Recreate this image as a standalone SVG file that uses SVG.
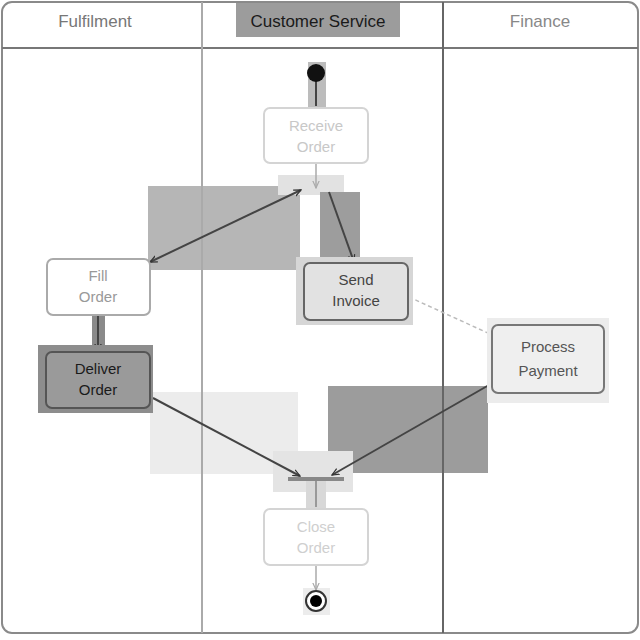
<svg xmlns="http://www.w3.org/2000/svg" width="640" height="640" viewBox="0 0 640 640">
  <defs>
    <marker id="arrow" viewBox="0 0 10 10" refX="9" refY="5" markerWidth="8" markerHeight="8" orient="auto-start-reverse" markerUnits="userSpaceOnUse">
      <path d="M0,1 L9,5 L0,9" fill="none" stroke="#333" stroke-width="1.5"/>
    </marker>
    <marker id="arrowLight" viewBox="0 0 10 10" refX="9" refY="5" markerWidth="8" markerHeight="8" orient="auto" markerUnits="userSpaceOnUse">
      <path d="M0,1 L9,5 L0,9" fill="none" stroke="#aaa" stroke-width="1.5"/>
    </marker>
  </defs>
  <style>
    .lane-title { font-family: "Liberation Sans", Arial, sans-serif; font-size: 17px; text-anchor: middle; }
    .label { font-family: "Liberation Sans", Arial, sans-serif; font-size: 15px; text-anchor: middle; }
    .node { rx: 6; ry: 6; stroke-width: 2; }
    .edge { fill: none; stroke: #444; stroke-width: 2; }
    .faded { fill: #fff; stroke: #d4d4d4; }
  </style>

  <rect width="640" height="640" fill="#fff"/>

  <!-- highlight panels behind connectors -->
  <g id="highlights">
    <rect x="148" y="186" width="152" height="84" fill="#b6b6b6"/>
    <rect x="278" y="175" width="66" height="20" fill="#e2e2e2"/>
    <rect x="320" y="192" width="40" height="70" fill="#9d9d9d"/>
    <rect x="308" y="62" width="18" height="45" fill="#bcbcbc"/>
    <rect x="92" y="315" width="13" height="35" fill="#8a8a8a"/>
    <rect x="150" y="392" width="148" height="82" fill="#ececec"/>
    <rect x="328" y="386" width="160" height="87" fill="#9c9c9c"/>
    <rect x="273" y="451" width="80" height="41" fill="#e4e4e4"/>
    <rect x="306" y="480" width="20" height="30" fill="#d8d8d8"/>
    <rect x="303" y="588" width="27" height="27" fill="#ececec"/>
  </g>

  <!-- swimlane frame -->
  <g id="swimlanes">
    <rect x="2" y="2" width="636" height="631" rx="10" fill="none" stroke="#8a8a8a" stroke-width="2"/>
    <line x1="2" y1="48" x2="638" y2="48" stroke="#777" stroke-width="2"/>
    <line x1="202" y1="2" x2="202" y2="633" stroke="#aaa" stroke-width="2"/>
    <line x1="443" y1="2" x2="443" y2="633" stroke="#666" stroke-width="2"/>
    <text class="lane-title" x="95" y="27" fill="#777">Fulfilment</text>
    <rect x="236" y="3" width="164" height="34" fill="#9c9c9c"/>
    <text class="lane-title" x="318" y="27" fill="#1a1a1a">Customer Service</text>
    <text class="lane-title" x="540" y="27" fill="#888">Finance</text>
  </g>

  <!-- connectors -->
  <g id="connectors">
    <line class="edge" x1="316" y1="80" x2="316" y2="106" stroke="#555"/>
    <line x1="316" y1="164" x2="316" y2="188" stroke="#aaa" stroke-width="1.5" marker-end="url(#arrowLight)"/>
    <line class="edge" x1="301" y1="190" x2="150" y2="262" marker-start="url(#arrow)" marker-end="url(#arrow)"/>
    <line class="edge" x1="329" y1="192" x2="354" y2="262" marker-end="url(#arrow)"/>
    <line class="edge" x1="98" y1="316" x2="98" y2="351" stroke="#333" stroke-width="3" marker-end="url(#arrow)"/>
    <line x1="409" y1="297" x2="490" y2="334" fill="none" stroke="#bbb" stroke-width="1.5" stroke-dasharray="4 3"/>
    <line class="edge" x1="153" y1="398" x2="300" y2="476" stroke="#666" marker-end="url(#arrow)"/>
    <line class="edge" x1="489" y1="385" x2="332" y2="475" stroke="#333" marker-end="url(#arrow)"/>
    <line x1="288" y1="479" x2="344" y2="479" stroke="#888" stroke-width="4"/>
    <line x1="316" y1="481" x2="316" y2="507" stroke="#999" stroke-width="2"/>
    <line x1="316" y1="566" x2="316" y2="590" stroke="#aaa" stroke-width="1.5" marker-end="url(#arrowLight)"/>
  </g>

  <!-- initial node -->
  <g id="start">
    <circle cx="316" cy="73" r="9" fill="#111"/>
  </g>

  <g id="receive-order">
    <rect class="node faded" x="264" y="108" width="104" height="55"/>
    <text class="label" x="316" y="131" fill="#c8c8c8">Receive</text>
    <text class="label" x="316" y="152" fill="#c8c8c8">Order</text>
  </g>

  <g id="fill-order">
    <rect class="node" x="47" y="259" width="103" height="56" fill="#fff" stroke="#aaa"/>
    <text class="label" x="98" y="281" fill="#999">Fill</text>
    <text class="label" x="98" y="302" fill="#999">Order</text>
  </g>

  <g id="send-invoice">
    <rect x="296" y="257" width="117" height="68" fill="#d6d6d6"/>
    <rect class="node" x="304" y="263" width="104" height="57" fill="#e2e2e2" stroke="#666"/>
    <text class="label" x="356" y="285" fill="#444">Send</text>
    <text class="label" x="356" y="306" fill="#444">Invoice</text>
  </g>

  <g id="deliver-order">
    <rect x="38" y="345" width="115" height="68" fill="#8d8d8d"/>
    <rect class="node" x="46" y="352" width="104" height="56" fill="#9a9a9a" stroke="#555"/>
    <text class="label" x="98" y="374" fill="#1a1a1a">Deliver</text>
    <text class="label" x="98" y="395" fill="#1a1a1a">Order</text>
  </g>

  <g id="process-payment">
    <rect x="487" y="318" width="122" height="85" fill="#ececec"/>
    <rect class="node" x="492" y="325" width="112" height="68" fill="#efefef" stroke="#777"/>
    <text class="label" x="548" y="352" fill="#555">Process</text>
    <text class="label" x="548" y="376" fill="#555">Payment</text>
  </g>

  <g id="close-order">
    <rect class="node faded" x="264" y="509" width="104" height="56"/>
    <text class="label" x="316" y="532" fill="#cfcfcf">Close</text>
    <text class="label" x="316" y="553" fill="#cfcfcf">Order</text>
  </g>

  <!-- final node -->
  <g id="end">
    <circle cx="316" cy="601" r="10" fill="#fff" stroke="#333" stroke-width="2"/>
    <circle cx="316" cy="601" r="6" fill="#000"/>
  </g>
</svg>
